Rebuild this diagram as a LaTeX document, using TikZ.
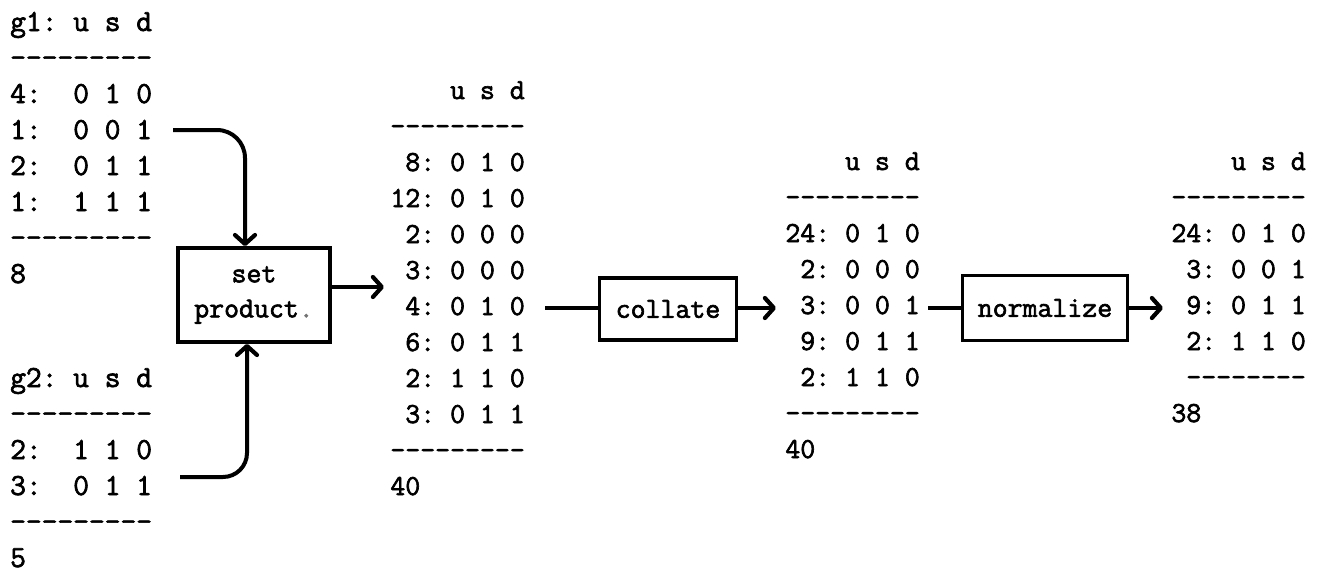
\documentclass[tikz,border=0pt]{standalone}
\usepackage{fontspec}
\usetikzlibrary{arrows.meta}
\setmonofont[FakeBold=2.2]{Latin Modern Mono}
\frenchspacing
\newcommand{\tabfont}{\ttfamily\fontsize{29}{36}\selectfont}
\newcommand{\intabfont}{\ttfamily\fontsize{30.6}{36}\selectfont}
\newcommand{\boxfont}{\ttfamily\fontsize{29}{35}\selectfont}
\newcommand{\dashrow}{-{}-{}-{}-{}-{}-{}-{}-{}-}
\newcommand{\dashrowe}{-{}-{}-{}-{}-{}-{}-{}-}
\tikzset{
  tbl/.style={inner sep=0pt, font=\tabfont},
  intbl/.style={inner sep=0pt, font=\intabfont},
  procbox/.style={draw, line width=3.8pt, inner sep=0pt, font=\boxfont, align=center},
  flow/.style={line width=4pt},
  arr/.style={flow, -{Straight Barb[length=9pt,width=20pt,line width=4.2pt,round]}},
}
\begin{document}
\begin{tikzpicture}[x=1pt,y=-1pt]
\useasboundingbox (0,0) rectangle (1342,574);

% input relations
\node[intbl, anchor=base west] (g1) at (10,31) {\begin{tabular}[t]{@{}l@{}}
g1: u s d\\ \dashrow\\ 4:~~0 1 0\\ 1:~~0 0 1\\ 2:~~0 1 1\\ 1:~~1 1 1\\ \dashrow\\ 8
\end{tabular}};
\node[intbl, anchor=base west] (g2) at (10,387) {\begin{tabular}[t]{@{}l@{}}
g2: u s d\\ \dashrow\\ 2:~~1 1 0\\ 3:~~0 1 1\\ \dashrow\\ 5
\end{tabular}};

% set product result
\node[tbl, anchor=base east] (prod) at (525,99) {\begin{tabular}[t]{@{}l@{}}
~~~~u s d\\ \dashrow\\ ~8: 0 1 0\\ 12: 0 1 0\\ ~2: 0 0 0\\ ~3: 0 0 0\\ ~4: 0 1 0\\ ~6: 0 1 1\\ ~2: 1 1 0\\ ~3: 0 1 1\\ \dashrow\\ 40
\end{tabular}};

% collated result
\node[tbl, anchor=base east] (coll) at (920,170) {\begin{tabular}[t]{@{}l@{}}
~~~~u s d\\ \dashrow\\ 24: 0 1 0\\ ~2: 0 0 0\\ ~3: 0 0 1\\ ~9: 0 1 1\\ ~2: 1 1 0\\ \dashrow\\ 40
\end{tabular}};

% normalized result
\node[tbl, anchor=base east] (norm) at (1306,170) {\begin{tabular}[t]{@{}l@{}}
~~~~u s d\\ \dashrow\\ 24: 0 1 0\\ ~3: 0 0 1\\ ~9: 0 1 1\\ ~2: 1 1 0\\ ~\dashrowe\\ 38
\end{tabular}};

% operations
\node[procbox, minimum width=152pt, minimum height=94pt] (setbox) at (254,295)
  {set\\product\textcolor{black!55}{.}};
\node[procbox, minimum width=137pt, minimum height=62pt] (collbox) at (668,309) {collate};
\node[procbox, minimum width=165pt, minimum height=65pt] (normbox) at (1045,308) {normalize};

% connectors
\coordinate (g1out) at (173,130);
\coordinate (g2out) at (180,477);
\coordinate (setin1) at (245,0);
\coordinate (setin2) at (247,0);
\draw[arr, rounded corners=28pt] (g1out) -| (setin1 |- setbox.north);
\draw[arr, rounded corners=24pt] (g2out) -| (setin2 |- setbox.south);

\coordinate (prodin) at (384,287);
\draw[arr] (setbox.east |- prodin) -- (prodin);

\coordinate (prodout) at (545,308);
\coordinate (collin) at (776,308);
\draw[flow] (prodout) -- (collbox.west |- prodout);
\draw[arr] (collbox.east |- prodout) -- (collin);

\coordinate (collout) at (928,308);
\coordinate (normin) at (1163,308);
\draw[flow] (collout) -- (normbox.west |- collout);
\draw[arr] (normbox.east |- collout) -- (normin);
\end{tikzpicture}
\end{document}
